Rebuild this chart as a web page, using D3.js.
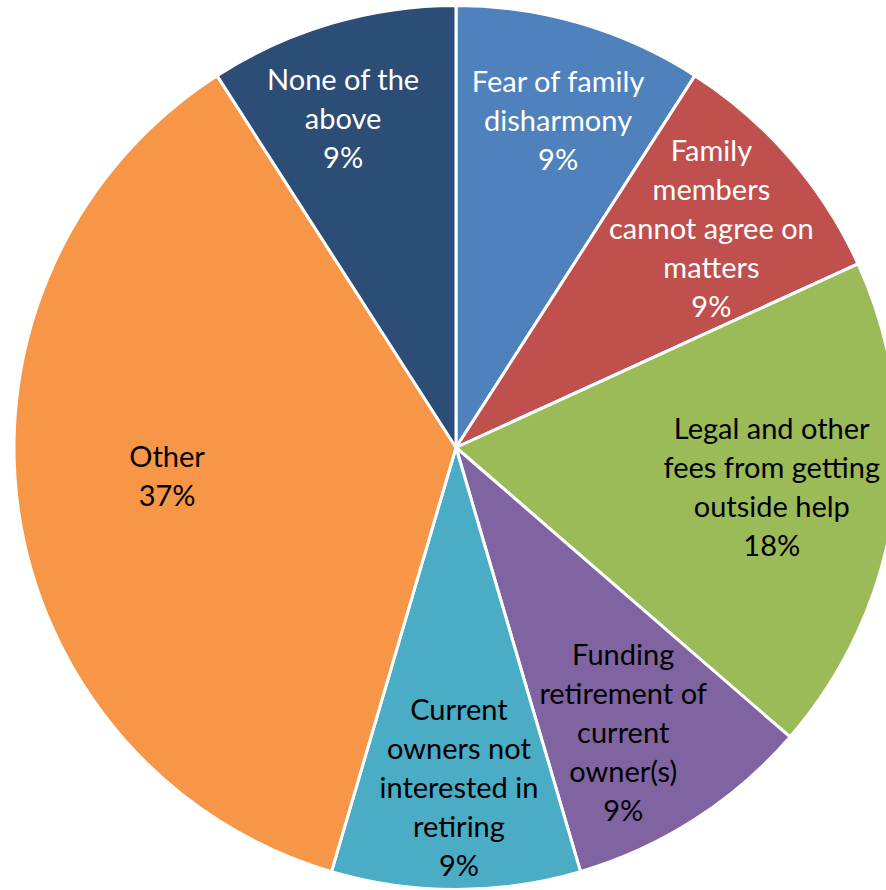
<!DOCTYPE html>
<html>
<head>
<meta charset="utf-8">
<script src="https://cdn.jsdelivr.net/npm/d3@7"></script>
<style>
  html, body { margin: 0; padding: 0; background: #fff; overflow: hidden; }
  text { font-family: Lato, "Open Sans", sans-serif; }
</style>
</head>
<body>
<div id="wrapper"></div>
<script>
// categories, clockwise from 12 o'clock
const categories = [
  'Fear of family disharmony',
  'Family members cannot agree on matters',
  'Legal and other fees from getting outside help',
  'Funding retirement of current owner(s)',
  'Current owners not interested in retiring',
  'Other',
  'None of the above',
]
// response counts (slice sizes)
const values = [1, 1, 2, 1, 1, 4, 1]
// percentages as printed on the chart
const percentLabels = ['9%', '9%', '18%', '9%', '9%', '37%', '9%']
// label line breaks as printed
const labelLines = [
  ['Fear of family', 'disharmony'],
  ['Family', 'members', 'cannot agree on', 'matters'],
  ['Legal and other', 'fees from getting', 'outside help'],
  ['Funding', 'retirement of', 'current', 'owner(s)'],
  ['Current', 'owners not', 'interested in', 'retiring'],
  ['Other'],
  ['None of the', 'above'],
]
const colors = ['#4F81BD', '#C0504D', '#9BBB59', '#8064A2', '#4BACC6', '#F79646', '#2C4D75']
const textColors = ['#fff', '#fff', '#000', '#000', '#000', '#000', '#fff']

const dimensions = { width: 886, height: 890, cx: 456, cy: 447.5, radius: 442 }
const lineHeight = 39
const fontSize = 29

// best-fit label placement: distance from centre as a share of the radius,
// and a small turn (degrees) away from the slice's mid angle
const labelRadiusShare = [0.774, 0.76, 0.72, 0.749, 0.77, 0.657, 0.786]
const labelAngleNudge = [1.0, 0.4, -1.0, 2.4, -0.5, 2.4, -2.6]

const dataset = categories.map((c, i) => ({
  category: c,
  value: values[i],
  lines: [...labelLines[i], percentLabels[i]],
  color: colors[i],
  textColor: textColors[i],
  labelShare: labelRadiusShare[i],
  labelNudge: (labelAngleNudge[i] * Math.PI) / 180,
}))

const svg = d3
  .select('#wrapper')
  .append('svg')
  .attr('width', dimensions.width)
  .attr('height', dimensions.height)

const bounds = svg
  .append('g')
  .attr('transform', `translate(${dimensions.cx}, ${dimensions.cy})`)

const pie = d3.pie().sort(null).value((d) => d.value)
const arcs = pie(dataset)

const arc = d3.arc().innerRadius(0).outerRadius(dimensions.radius)

bounds
  .selectAll('path')
  .data(arcs)
  .join('path')
  .attr('d', arc)
  .attr('fill', (d) => d.data.color)
  .attr('stroke', '#fff')
  .attr('stroke-width', 3)
  .attr('stroke-linejoin', 'round')

const labels = bounds
  .selectAll('.label')
  .data(arcs)
  .join('text')
  .attr('class', 'label')
  .attr('text-anchor', 'middle')
  .attr('font-size', fontSize)
  .attr('fill', (d) => d.data.textColor)
  .attr('transform', (d) => {
    const r = dimensions.radius * d.data.labelShare
    const a = (d.startAngle + d.endAngle) / 2 + d.data.labelNudge
    return `translate(${r * Math.sin(a)}, ${-r * Math.cos(a)})`
  })

labels
  .selectAll('tspan')
  .data((d) => d.data.lines.map((line, i, all) => ({ line, i, n: all.length })))
  .join('tspan')
  .attr('x', 0)
  .attr('y', (d) => (d.i - (d.n - 1) / 2) * lineHeight)
  .attr('dy', '0.35em')
  .text((d) => d.line)
</script>
</body>
</html>
